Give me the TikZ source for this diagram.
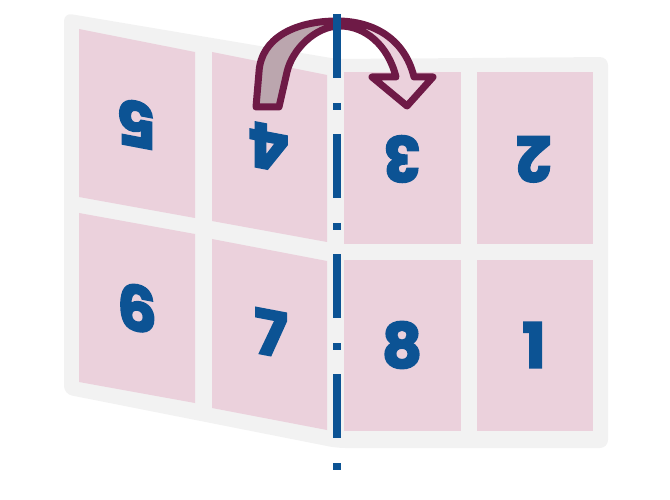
\documentclass[tikz,border=0pt]{standalone}
\usepackage{fontspec}
\newfontfamily\numfont{Poppins}[FakeBold=3]
\definecolor{framegray}{HTML}{F2F2F2}
\definecolor{panelpink}{HTML}{EBD1DC}
\definecolor{numblue}{HTML}{0C5394}
\definecolor{arrowred}{HTML}{6E1A46}
\definecolor{arrowback}{HTML}{BBA6AE}
\begin{document}
\begin{tikzpicture}[x=1pt,y=-1pt,
  panel/.style={fill=panelpink},
  frame/.style={fill=framegray, rounded corners=8pt},
  num/.style={text=numblue, inner sep=0pt, font=\numfont\bfseries\fontsize{62}{62}\selectfont},
  leftnum/.style={num, yslant=-0.19},
  flipnum/.style={rotate=180},
  foldline/.style={draw=numblue, line width=8pt, dash pattern=on 64pt off 25pt on 7pt off 24pt},
  arrowline/.style={draw=arrowred, line width=7pt, line join=round}]
\useasboundingbox (0,0) rectangle (670,500);
% paper frame
\path[frame] (64,13) -- (337,59) -- (608,57) -- (608,448) -- (337,448) -- (64,394) -- cycle;
% left (folding) panels
\path[panel] (79,29) -- (195,52) -- (195,218) -- (79,197) -- cycle;
\path[panel] (212,52) -- (327,75) -- (327,242) -- (212,221) -- cycle;
\path[panel] (79,213) -- (195,234) -- (195,403) -- (79,382) -- cycle;
\path[panel] (212,239) -- (327,261) -- (327,430) -- (212,408) -- cycle;
% right panels
\path[panel] (344,72) rectangle (461,244);
\path[panel] (477,72) rectangle (593,244);
\path[panel] (344,260) rectangle (461,431);
\path[panel] (477,260) rectangle (593,431);
% numbers
\node[leftnum, flipnum] (n5) at (137,124) {5};
\node[leftnum, flipnum] (n4) at (269,147) {4};
\node[num, flipnum] (n3) at (402,159) {3};
\node[num, flipnum] (n2) at (534,159) {2};
\node[leftnum] (n6) at (137,308) {6};
\node[leftnum] (n7) at (271,333) {7};
\node[num] (n8) at (402,345) {8};
\node[num] (n1) at (534,345) {1};
% arrow fills
\begin{scope}
\clip (0,0) rectangle (336,500);
\fill[arrowback] (256,107) -- (259,72) .. controls (261,38) and (295,21) .. (337,21) .. controls (375,21) and (405,40) .. (414,77) -- (433,77) -- (407,106) -- (372,77) -- (396,77) .. controls (388,45) and (365,26) .. (340,26) .. controls (315,26) and (292,50) .. (287,72) -- (279,107) -- cycle;
\end{scope}
\begin{scope}
\clip (336,0) rectangle (670,500);
\fill[panelpink] (256,107) -- (259,72) .. controls (261,38) and (295,21) .. (337,21) .. controls (375,21) and (405,40) .. (414,77) -- (433,77) -- (407,106) -- (372,77) -- (396,77) .. controls (388,45) and (365,26) .. (340,26) .. controls (315,26) and (292,50) .. (287,72) -- (279,107) -- cycle;
\end{scope}
\path[arrowline] (256,107) -- (259,72) .. controls (261,38) and (295,21) .. (337,21) .. controls (375,21) and (405,40) .. (414,77) -- (433,77) -- (407,106) -- (372,77) -- (396,77) .. controls (388,45) and (365,26) .. (340,26) .. controls (315,26) and (292,50) .. (287,72) -- (279,107) -- cycle;
% fold line
\coordinate (foldtop) at (337,14);
\coordinate (foldbot) at (337,470);
\draw[foldline] (foldtop) -- (foldbot);
\end{tikzpicture}
\end{document}
